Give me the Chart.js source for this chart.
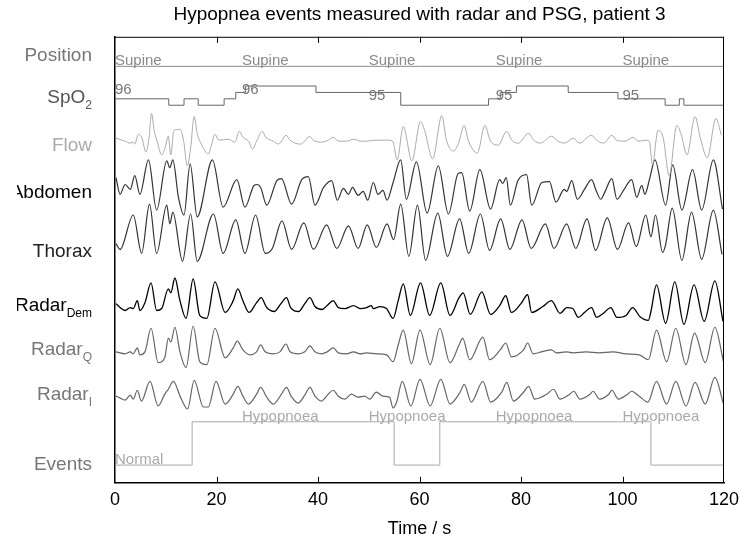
<!DOCTYPE html>
<html>
<head>
<meta charset="utf-8">
<script src="https://cdn.jsdelivr.net/npm/chart.js@4.4.1/dist/chart.umd.min.js"></script>
<style>
  html, body { margin: 0; padding: 0; background: #fff; }
  #wrap { width: 739px; height: 540px; }
</style>
</head>
<body>
<div id="wrap"><canvas id="chart" width="739" height="540"></canvas></div>
<script>
// time axis
const xTicks = [0, 20, 40, 60, 80, 100, 120];
const labelTimes = [0, 25, 50, 75, 100];
const positionText = ['Supine', 'Supine', 'Supine', 'Supine', 'Supine'];
const spo2Text = ['96', '96', '95', '95', '95'];
const eventNames = ['Normal', 'Hypopnoea'];

// step signals: [start time, value]
const positionSteps = [[0, 0], [120, 0]];
const spo2Steps = [[0, 96], [10.6, 95], [13.6, 96], [16.4, 95], [21.5, 96], [23.8, 97], [25.7, 98],
  [39.6, 97], [56.3, 95], [73.6, 96], [75.9, 97], [79.1, 98], [89.3, 97], [99.1, 96],
  [108.4, 95], [111.2, 96], [112.1, 95], [120, 95]];
const eventSteps = [[0, 0], [15.2, 1], [55, 0], [64, 1], [105.6, 0], [120, 0]];

// respiratory signals: [time s, amplitude]
const flow = [[0.2,2],[2,-1],[3,-3],[3.6,-2],[3.9,-4],[4.6,6],[5.25,3],[6.1,-12],[6.7,2],[7.2,27],[7.75,9],[8.3,-1],
  [9.2,-15],[9.85,-8],[10.5,4],[11,-15],[11.6,10],[12.8,11],[13.5,0],[14.25,-26],[14.9,-8],[15.6,24],[16.2,7],
  [17.1,-5],[18.4,-14],[19,-5],[19.7,6],[20.4,0],[22.3,1],[23.6,-2],[24.5,9],[25.2,3],[26.3,-1],[27.1,-9],
  [27.9,-1],[29,9],[29.7,3],[31.2,-1],[32.2,-4],[32.8,-1],[33.7,5],[34.5,0],[36.5,-4],[37.4,-1],[38.3,4],
  [39.1,0],[40.7,-2],[42,0],[43,3],[44,-1],[45.6,-1],[47.1,1],[48.3,-1],[49.6,-1],[51.2,0],[53.5,0],[54.7,-1],
  [55.6,-20],[56.8,14],[58.5,-21],[60.2,19],[61,10],[62.6,-19],[64.4,25],[65.3,0],[66.7,-11],[67.7,-3],
  [68.8,15],[69.6,0],[71.4,-13],[72.9,15],[73.9,0],[75.5,-5],[77.2,9],[78.2,0],[79.5,-3],[81.5,7],[82.5,0],
  [83.8,-3],[86,4],[87.3,-1],[88.6,-3],[90.3,2],[91.5,-3],[93.9,5],[94.9,0],[96.3,-3],[97.9,5],[98.8,0],
  [100.5,-1],[102.1,3],[103.1,-1],[104.9,0],[105.3,-1],[105.9,-25],[107,10],[108,3],[109.2,-36],[110.7,15],
  [111.6,5],[112.7,-15],[114.3,24],[115.3,3],[116.7,-18],[118.4,22],[119.5,5]];

const abdomen = [[0.2,15],[1,-2],[2,8],[3,3],[3.9,17],[4.9,-2],[6.6,33],[8.2,-18],[10.2,32],[10.8,25],[11.4,33],
  [12.5,-5],[13.6,-23],[14.8,29],[16.2,-25],[19.2,33],[21.3,-15],[24,13],[25.6,-15],[27.4,7],[28,8],[28.7,5],
  [29.9,-13],[31.9,12],[32.8,14],[34.8,-12],[36.8,13],[38.1,16],[39.4,-13],[41.1,5],[42.7,12],[43.8,-8],
  [45,4],[46,-2],[46.8,5],[47.9,-3],[48.9,1],[49.8,-8],[50.9,10],[51.8,-2],[52.8,2],[53.6,-8],[54.8,10],
  [56.3,33],[57.4,-7],[59.4,31],[61.5,-21],[63.7,27],[65.7,-22],[67.6,19],[68.3,20],[69.9,-19],[71.9,23],
  [74,-17],[75.8,13],[76.4,9],[77.1,15],[77.9,-13],[79.4,12],[81.1,18],[82.1,-13],[84.1,10],[85.6,11],
  [86.9,-10],[88.5,3],[89,1],[90,12],[91.1,-7],[92.5,3],[93.9,13],[94.8,2],[95.7,-7],[96.5,0],[97.9,14],
  [98.9,-7],[100.2,2],[101.8,13],[102.8,-5],[103.8,7],[104.4,-2],[105.4,15],[106.4,33],[108.5,-13],
  [109.9,28],[111.7,-18],[113.8,23],[115.6,-18],[117.9,33],[119.7,-17]];

const thorax = [[0.2,-7],[1,-13],[3.6,22],[5.25,-17],[6.8,33],[8.2,-17],[10.2,32],[10.8,13],[11.4,25],[13.3,-25],
  [14.9,23],[16.2,-25],[19.4,23],[21.3,-17],[23.8,17],[25.6,-17],[27.7,22],[29.6,-17],[31,-12],[32.9,16],
  [34.8,-13],[37.2,14],[39.1,-13],[41.7,12],[43.7,-12],[46,11],[47.9,-12],[49.7,12],[51.5,-11],[53.6,13],
  [54.9,-3],[56.3,33],[57.9,-20],[59.6,32],[61.2,-24],[63.6,24],[65.5,-20],[67.9,18],[69.7,-17],[72,23],
  [73.8,-14],[76,18],[77.8,-13],[80.2,17],[82,-12],[84.8,13],[86.5,-12],[89,13],[90.8,-12],[93,18],
  [94.7,-14],[97,19],[99,-13],[101.2,14],[102.7,-10],[104.6,22],[105.6,0],[106.5,22],[107.9,-16],[108.5,-8],
  [109.8,29],[111.7,-24],[113.6,25],[115.6,-23],[117.9,27],[119.6,-18]];

const radarDem = [[0.2,2],[1,-2],[2,-5],[3,-2],[3.6,-3],[4.4,5],[4.9,-5],[5.9,3],[7.1,23],[8.2,-5],[9.2,-3],
  [10.5,17],[11,13],[11.8,28],[12.8,5],[14,-13],[15.4,27],[16.7,-10],[18.1,-13],[19.7,24],[21.7,-7],[23.3,5],
  [24.2,17],[25.2,5],[26.4,-7],[27.9,3],[28.8,8],[29.9,-2],[31.4,-6],[32.7,2],[33.8,8],[34.6,-2],[36.2,-6],
  [37.4,2],[38.4,8],[39.4,-1],[40.8,-4],[41.8,0],[43,5],[44,-2],[45.3,-3],[47,0],[48.3,-3],[49.6,-2],
  [50.5,0],[50.9,-3],[52.2,-1],[53.5,-3],[54.8,-13],[55.8,5],[56.8,22],[58.2,-10],[60.2,23],[62,-10],
  [64.2,23],[66,-10],[67.8,8],[68.6,13],[70,-9],[72.3,14],[74,-9],[75.8,0],[77,10],[78.1,-7],[80,2],
  [81.3,11],[82.1,-7],[84.3,-1],[86,5],[87.7,-8],[89,-2],[90.2,-3],[91.3,-12],[92.5,-7],[93.9,-2],
  [94.9,-12],[96.2,-8],[97.7,-2],[98.9,-12],[100.7,-10],[102,-2],[103.4,-11],[105.1,-15],[105.6,-6],
  [106.7,21],[108.5,-18],[110.3,24],[112.1,-19],[114.1,21],[116.1,-16],[118.2,25],[119.8,-16]];

const radarQ = [[0.2,1],[2,-1],[3,1],[3.6,-1],[4.4,5],[4.9,-2],[5.9,1],[7.1,25],[8.5,-10],[9.8,-5],[10.5,15],
  [11,11],[11.8,26],[12.8,1],[14,-15],[15.4,27],[16.7,-9],[18.1,-12],[19.7,25],[21.7,-5],[23.3,5],[24.1,12],
  [25.2,3],[26.6,-2],[27.9,1],[28.7,8],[29.6,1],[31.2,-1],[32.5,1],[33.7,9],[34.5,1],[36.1,-1],[37.4,1],
  [38.4,7],[39.4,1],[40.7,-1],[41.8,1],[43,5],[44,0],[45.6,-1],[47,1],[48.3,-1],[49.6,0],[51.5,-1],
  [53.5,-2],[54.8,-9],[55.8,8],[56.8,23],[58.4,-11],[60.1,23],[62.1,-12],[64,25],[66,-10],[67.8,8],
  [68.5,15],[69.9,-7],[72.5,16],[73.8,-7],[75.9,3],[77,10],[78.1,-4],[80.5,3],[81.3,10],[82.4,-1],[84,1],
  [86,3],[87,0],[89,1],[90.3,0],[92.8,1],[95.4,0],[98.1,1],[100.7,-1],[103.3,-2],[105.1,-7],[106.7,23],
  [108.7,-9],[110.5,25],[112.5,-12],[114.2,20],[116.3,-10],[118.2,26],[119.9,-9]];

const radarI = [[0.2,0],[1,-2],[2,-4],[3,1],[3.6,-3],[4.4,6],[5.2,-5],[6.9,15],[8.5,-10],[9.8,2],[10.5,7],
  [11.5,15],[12.9,-1],[14.3,-13],[15.6,16],[17.4,-11],[18.4,-11],[19.9,15],[21.7,-8],[23.3,2],[24.2,10],
  [25.2,0],[26.3,-8],[27.9,2],[28.7,9],[29.9,-1],[31.2,-8],[32.8,2],[33.8,9],[34.7,0],[36.1,-7],[37.4,1],
  [38.4,9],[39.4,0],[40.7,-5],[42,2],[43,6],[44,0],[45.3,-3],[46.6,2],[47.9,-1],[49.2,0],[50.2,-3],
  [51.5,4],[52.8,0],[54.1,-1],[54.8,-12],[55.5,-6],[56.6,15],[58.3,-10],[60.1,17],[62.1,-10],[64.2,17],
  [66,-8],[68,4],[68.8,12],[70.2,-6],[72.5,15],[74,-6],[76.2,4],[77.2,14],[78.5,-5],[80.5,4],[81.5,10],
  [82.7,-3],[85.1,2],[86.4,7],[87.7,-3],[89.6,2],[90.4,5],[91.6,-3],[93.6,2],[94.2,5],[95.5,-3],[97.3,2],
  [97.9,6],[99.2,-3],[101,2],[101.8,5],[103.3,0],[105,-6],[106.7,15],[108.7,-8],[110.5,15],[112.5,-10],
  [114.3,14],[116.3,-8],[118.2,19],[119.9,-8]];

const FONT = "'Liberation Sans', Arial, Helvetica, sans-serif";

// lane placement on the stacked (reversed) y scale
const lane = (pairs, base, gain) => pairs.map(([t, v]) => ({ x: t, y: base - gain * v }));
const spo2Y = v => 63 - 6.5 * (v - 96);
const eventY = v => 435 - 44 * v;

function trace(label, data, color, width, stepped) {
  return {
    label, data, borderColor: color, borderWidth: width, pointRadius: 0,
    fill: false, stepped: stepped || false,
    cubicInterpolationMode: stepped ? 'default' : 'monotone'
  };
}

const datasets = [
  trace('Position', lane(positionSteps, 30, 1), '#8a8a8a', 1, 'before'),
  trace('SpO2', spo2Steps.map(([t, v]) => ({ x: t, y: spo2Y(v) })), '#666', 1, 'before'),
  trace('Flow', lane(flow, 105, 1), '#aaa', 1),
  trace('Abdomen', lane(abdomen, 158, 1), '#333', 1.2),
  trace('Thorax', lane(thorax, 203, 1), '#333', 1.2),
  trace('RadarDem', lane(radarDem, 273, 1), '#000', 1.3),
  trace('RadarQ', lane(radarQ, 321, 1), '#666', 1.2),
  trace('RadarI', lane(radarI, 365, 1), '#666', 1.2),
  trace('Events', eventSteps.map(([t, v]) => ({ x: t, y: eventY(v) })), '#aaa', 1, 'before')
];

const laneLabels = [
  { main: 'Position', sub: '', y: 19, color: '#777' },
  { main: 'SpO', sub: '2', y: 62, color: '#555' },
  { main: 'Flow', sub: '', y: 111, color: '#aaa' },
  { main: 'Abdomen', sub: '', y: 158, color: '#000' },
  { main: 'Thorax', sub: '', y: 218, color: '#222' },
  { main: 'Radar', sub: 'Dem', y: 273, color: '#000' },
  { main: 'Radar', sub: 'Q', y: 318, color: '#777' },
  { main: 'Radar', sub: 'I', y: 364, color: '#777' },
  { main: 'Events', sub: '', y: 435, color: '#777' }
];

function stateAt(steps, t) {
  let v = steps[0][1];
  steps.forEach(([s, val]) => { if (s <= t) v = val; });
  return v;
}

const decor = {
  id: 'decor',
  afterDraw(chart) {
    const { ctx, chartArea: a, scales: { x, y } } = chart;
    ctx.save();
    // box and inward ticks
    ctx.strokeStyle = '#000';
    ctx.lineWidth = 1;
    ctx.beginPath();
    ctx.moveTo(a.left, a.top + 0.5); ctx.lineTo(a.right, a.top + 0.5);
    ctx.moveTo(a.right - 0.5, a.top); ctx.lineTo(a.right - 0.5, a.bottom);
    xTicks.slice(1, -1).forEach(v => {
      const px = Math.round(x.getPixelForValue(v)) + 0.5;
      ctx.moveTo(px, a.bottom); ctx.lineTo(px, a.bottom - 6);
      ctx.moveTo(px, a.top); ctx.lineTo(px, a.top + 6);
    });
    ctx.stroke();

    // inline labels
    ctx.font = '15px ' + FONT;
    ctx.textAlign = 'left';
    ctx.textBaseline = 'alphabetic';
    labelTimes.forEach((t, i) => {
      const px = x.getPixelForValue(t);
      ctx.fillStyle = '#8a8a8a';
      ctx.fillText(positionText[i], px, y.getPixelForValue(29));
      ctx.fillStyle = '#777';
      ctx.fillText(spo2Text[i], px, y.getPixelForValue(spo2Y(+spo2Text[i]) - 5));
      const ev = stateAt(eventSteps, t);
      ctx.fillStyle = '#aaa';
      ctx.fillText(eventNames[ev], px, y.getPixelForValue(eventY(ev) - 1));
    });

    // lane names on the left
    ctx.beginPath();
    ctx.rect(17, 0, a.left, chart.height);
    ctx.clip();
    const right = a.left - 23;
    laneLabels.forEach(l => {
      const py = y.getPixelForValue(l.y);
      ctx.font = '19px ' + FONT;
      const wm = ctx.measureText(l.main).width;
      ctx.font = '12px ' + FONT;
      const ws = l.sub ? ctx.measureText(l.sub).width : 0;
      ctx.fillStyle = l.color;
      ctx.textBaseline = 'middle';
      ctx.font = '19px ' + FONT;
      ctx.fillText(l.main, right - wm - ws, py);
      if (l.sub) {
        ctx.font = '12px ' + FONT;
        ctx.fillText(l.sub, right - ws, py + 8);
      }
    });
    ctx.restore();
  }
};

new Chart(document.getElementById('chart'), {
  type: 'line',
  data: { datasets },
  options: {
    responsive: false,
    animation: false,
    devicePixelRatio: 1,
    layout: { padding: { left: 115, right: 15, top: 0, bottom: 0 } },
    plugins: {
      legend: { display: false },
      tooltip: { enabled: false },
      title: {
        display: true,
        text: 'Hypopnea events measured with radar and PSG, patient 3',
        color: '#000',
        font: { family: FONT, size: 19, weight: 'normal' },
        padding: { top: 3, bottom: 11 }
      }
    },
    scales: {
      x: {
        type: 'linear', min: 0, max: 120,
        afterBuildTicks: s => { s.ticks = xTicks.map(v => ({ value: v })); },
        afterFit: s => { s.paddingLeft = 0; s.paddingRight = 0; },
        ticks: { color: '#000', font: { family: FONT, size: 18 }, padding: 6, maxRotation: 0 },
        grid: { drawOnChartArea: false, drawTicks: false },
        border: { display: true, color: '#000', width: 1.5 },
        title: {
          display: true, text: 'Time / s', color: '#000',
          font: { family: FONT, size: 18 }, padding: { top: 2, bottom: 0 }
        }
      },
      y: {
        type: 'linear', min: 0, max: 453, reverse: true,
        ticks: { display: false },
        grid: { drawOnChartArea: false, drawTicks: false },
        border: { display: true, color: '#000', width: 1.5 }
      }
    }
  },
  plugins: [decor]
});
</script>
</body>
</html>
